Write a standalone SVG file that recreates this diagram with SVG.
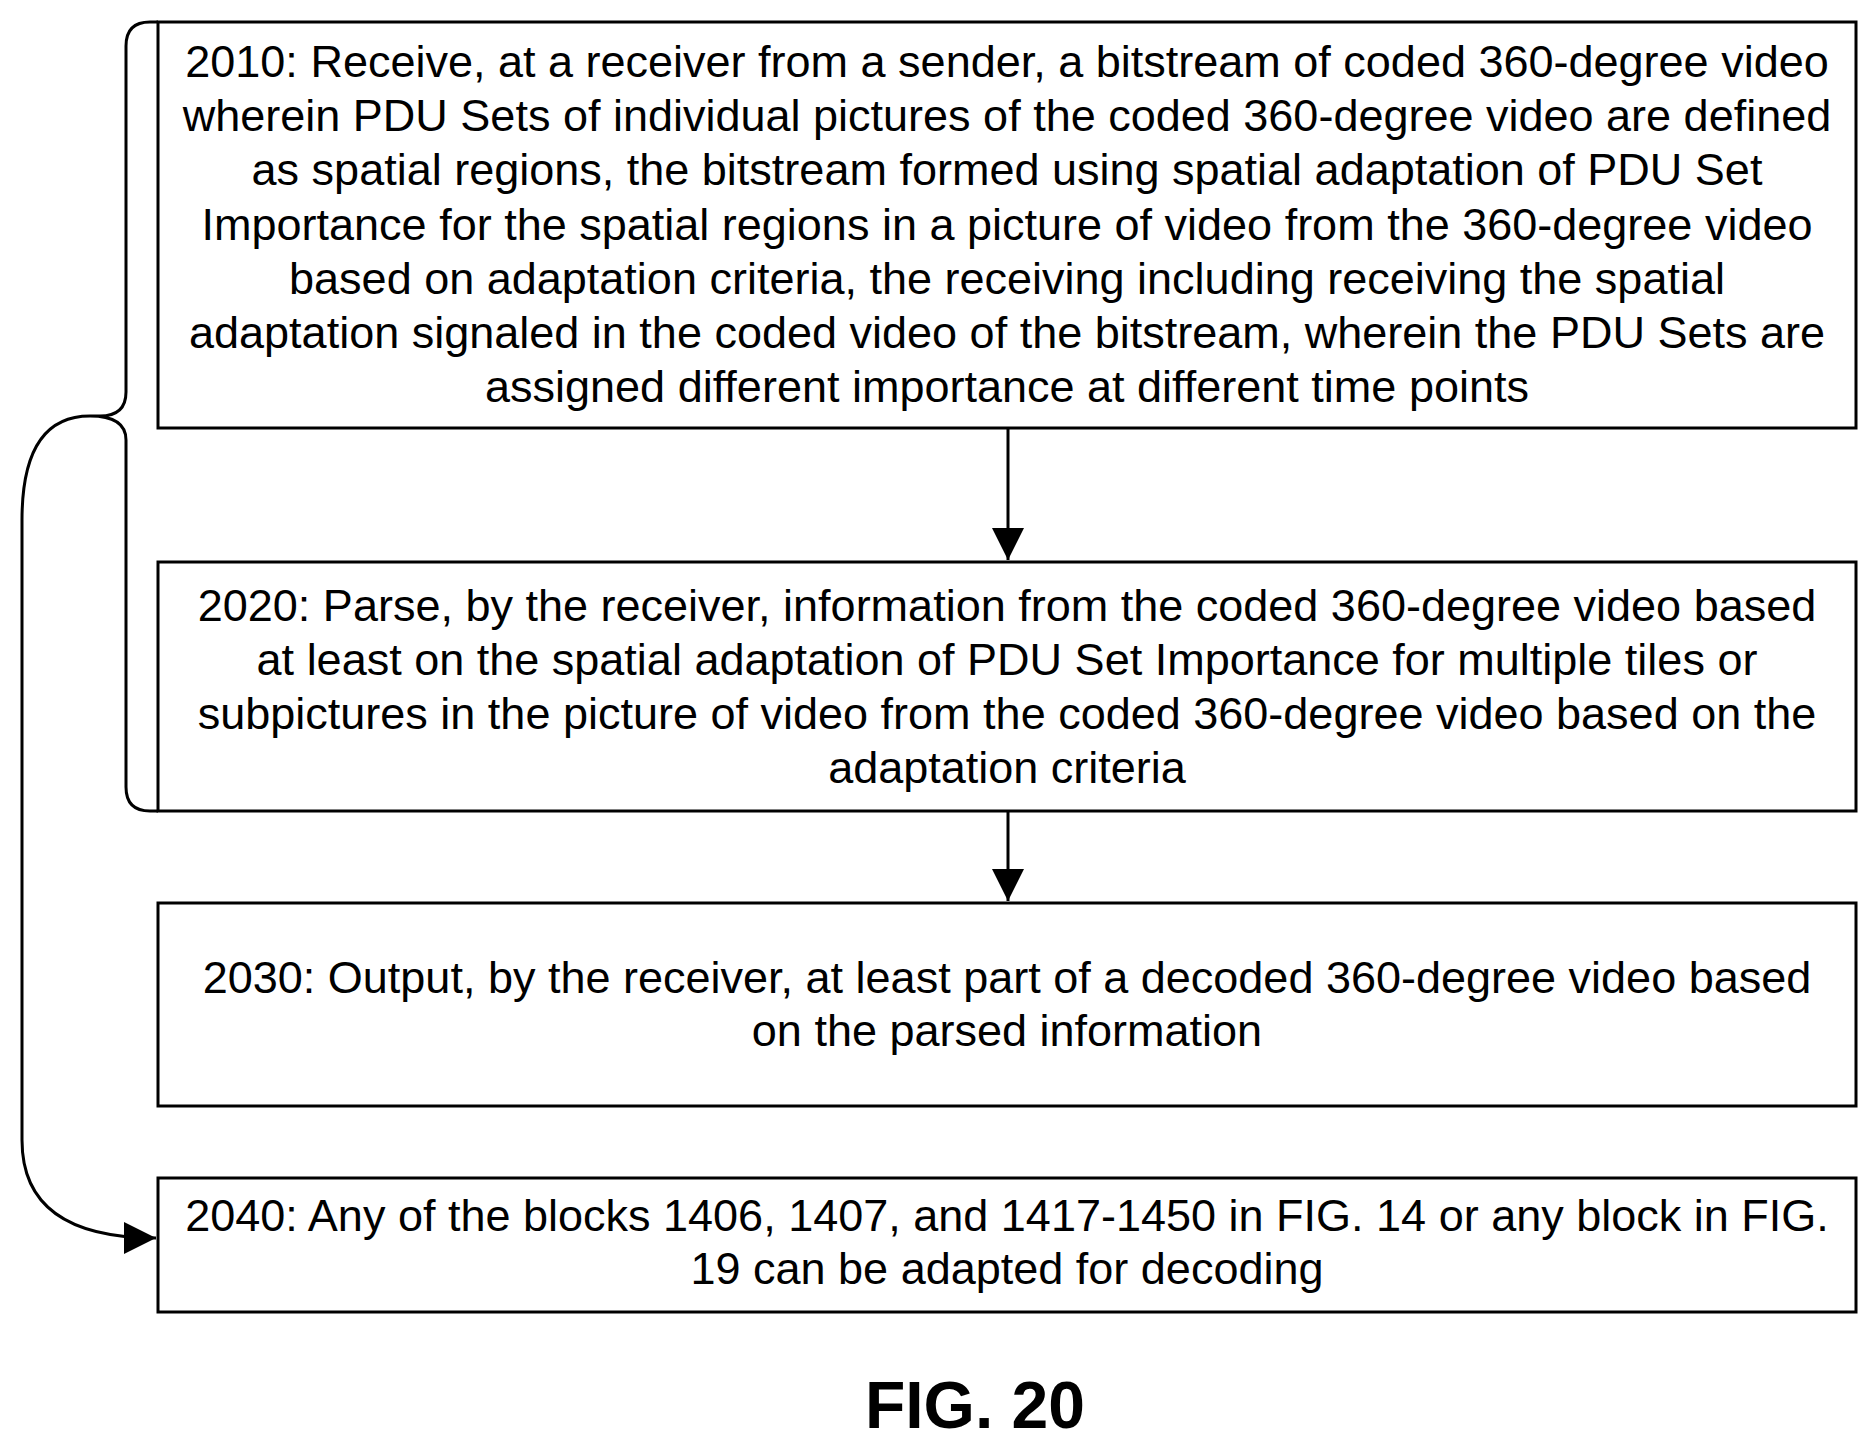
<svg xmlns="http://www.w3.org/2000/svg" width="1875" height="1446" viewBox="0 0 1875 1446">
<style>
.box{fill:#fff;stroke:#000;stroke-width:3}
.t{font-family:"Liberation Sans",Arial,sans-serif;font-size:45px;text-anchor:middle;fill:#000}
.c{fill:none;stroke:#000;stroke-width:3}
</style>
<defs>
<marker id="a2" viewBox="0 0 10 10" refX="10" refY="5" markerWidth="32" markerHeight="32" markerUnits="userSpaceOnUse" orient="auto"><path d="M0,0 L10,5 L0,10 z" fill="#000"/></marker></defs>
<rect width="1875" height="1446" fill="#fff"/>
<g id="n2010"><rect class="box" x="158" y="22" width="1698" height="406"/>
<text class="t" x="1007" y="77">2010: Receive, at a receiver from a sender, a bitstream of coded 360-degree video</text>
<text class="t" x="1007" y="131">wherein PDU Sets of individual pictures of the coded 360-degree video are defined</text>
<text class="t" x="1007" y="185">as spatial regions, the bitstream formed using spatial adaptation of PDU Set</text>
<text class="t" x="1007" y="240">Importance for the spatial regions in a picture of video from the 360-degree video</text>
<text class="t" x="1007" y="294">based on adaptation criteria, the receiving including receiving the spatial</text>
<text class="t" x="1007" y="348">adaptation signaled in the coded video of the bitstream, wherein the PDU Sets are</text>
<text class="t" x="1007" y="402">assigned different importance at different time points</text></g>
<g id="n2020"><rect class="box" x="158" y="562" width="1698" height="249"/>
<text class="t" x="1007" y="621">2020: Parse, by the receiver, information from the coded 360-degree video based</text>
<text class="t" x="1007" y="675">at least on the spatial adaptation of PDU Set Importance for multiple tiles or</text>
<text class="t" x="1007" y="729">subpictures in the picture of video from the coded 360-degree video based on the</text>
<text class="t" x="1007" y="783">adaptation criteria</text></g>
<g id="n2030"><rect class="box" x="158" y="903" width="1698" height="203"/>
<text class="t" x="1007" y="993">2030: Output, by the receiver, at least part of a decoded 360-degree video based</text>
<text class="t" x="1007" y="1046">on the parsed information</text></g>
<g id="n2040"><rect class="box" x="158" y="1178" width="1698" height="134"/>
<text class="t" x="1007" y="1231">2040: Any of the blocks 1406, 1407, and 1417-1450 in FIG. 14 or any block in FIG.</text>
<text class="t" x="1007" y="1284">19 can be adapted for decoding</text></g>
<g id="connectors">
<line class="c" x1="1008" y1="428" x2="1008" y2="560" marker-end="url(#a2)"/>
<line class="c" x1="1008" y1="811" x2="1008" y2="901" marker-end="url(#a2)"/>
<path class="c" d="M158,22 L150,22 Q126,22 126,46 L126,392 Q126,416 100,416 L90,416 Q126,416 126,440 L126,787 Q126,811 150,811 L158,811"/>
<path class="c" d="M90,416 Q22,416 22,520 L22,1140 Q22,1238 156,1238" marker-end="url(#a2)"/>
</g>
<text x="975" y="1428" style="font-family:'Liberation Sans',Arial,sans-serif;font-size:66px;font-weight:bold;text-anchor:middle">FIG. 20</text>
</svg>
